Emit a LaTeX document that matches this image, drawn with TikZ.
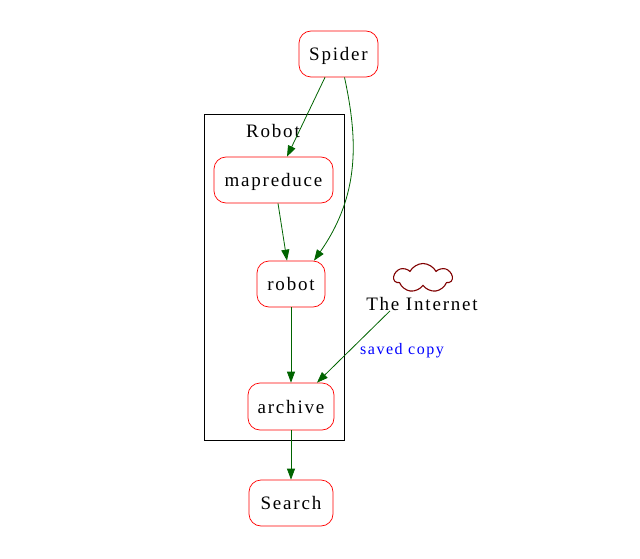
\documentclass[tikz,border=0pt]{standalone}
\usepackage{fontspec}
\setmainfont{Liberation Serif}[LetterSpace=9.5]
\usetikzlibrary{arrows.meta,calc,shapes.symbols}
\definecolor{edgegreen}{RGB}{0,100,0}
\definecolor{cloudred}{RGB}{128,0,0}
\tikzset{
  proc/.style={draw=red, rounded corners=12pt, minimum height=46pt, inner xsep=0pt,
    text height=17pt, text depth=3.6pt,
    font=\fontsize{19}{22}\selectfont, line width=0.7pt, fill=white},
  edge/.style={draw=edgegreen, line width=0.8pt, -{Triangle[length=11pt,width=8pt]}},
  lbl/.style={font=\fontsize{19}{22}\selectfont, inner sep=0pt},
}
\begin{document}
\begin{tikzpicture}[x=1pt,y=-1pt]
\useasboundingbox[fill=white] (0,0) rectangle (640,559);
% cluster
\node[draw=black, line width=0.8pt, minimum width=140pt, minimum height=326pt, inner sep=0pt] (cluster) at (274,277) {};
\node[lbl] (clabel) at (273,131) {Robot};
% nodes
\node[proc, minimum width=79pt] (spider) at (338.5,54) {Spider};
\node[proc, minimum width=119pt] (mapreduce) at (273.5,180) {mapreduce};
\node[proc, minimum width=68pt] (robot) at (291,284) {robot};
\node[proc, minimum width=86pt, minimum height=47pt] (archive) at (291,406.5) {archive};
\node[proc, minimum width=84pt] (search) at (291,503) {Search};
\node[draw=cloudred, line width=1.1pt, cloud, cloud puffs=7, cloud puff arc=125, aspect=2.1,
  minimum width=58pt, minimum height=29pt, inner sep=0pt] (cloud) at (423,278) {};
\node[lbl] (internet) at (422,304) {The Internet};
% edges
\draw[edge] ($(spider.south)+(-13.5,0)$) -- ($(mapreduce.north)+(13.5,0)$);
\draw[edge] ($(spider.south)+(6,0)$) .. controls (358,140) and (360,195) .. ($(robot.north)+(23,0)$);
\draw[edge] ($(mapreduce.south)+(4.5,0)$) -- ($(robot.north)+(-4,0)$);
\draw[edge] (robot.south) -- (archive.north);
\draw[edge] ($(internet.south)+(-32,0)$) -- node[pos=0.51, anchor=west, xshift=7pt, yshift=-3.5pt, font=\fontsize{16}{19}\selectfont, text=blue, inner sep=0pt] (savedcopy) {saved copy} ($(archive.north)+(26,0)$);
\draw[edge] (archive.south) -- (search.north);
\end{tikzpicture}
\end{document}
